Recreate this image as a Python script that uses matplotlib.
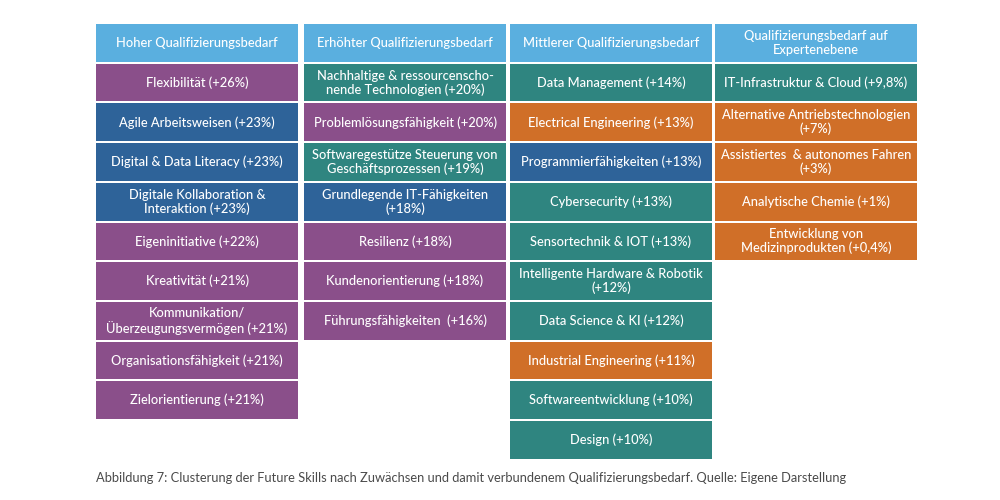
import matplotlib.pyplot as plt
from matplotlib.patches import Rectangle

# Column headers
HEADERS = [
    "Hoher Qualifizierungsbedarf",
    "Erhöhter Qualifizierungsbedarf",
    "Mittlerer Qualifizierungsbedarf",
    "Qualifizierungsbedarf auf\nExpertenebene",
]

# Skills per column (label text) and their cluster type
COL1 = [
    "Flexibilität (+26%)",
    "Agile Arbeitsweisen (+23%)",
    "Digital & Data Literacy (+23%)",
    "Digitale Kollaboration &\nInteraktion (+23%)",
    "Eigeninitiative (+22%)",
    "Kreativität (+21%)",
    "Kommunikation/\nÜberzeugungsvermögen (+21%)",
    "Organisationsfähigkeit (+21%)",
    "Zielorientierung (+21%)",
]
TYPE1 = ["soft", "digital", "digital", "digital", "soft", "soft", "soft", "soft", "soft"]

COL2 = [
    "Nachhaltige & ressourcenscho-\nnende Technologien (+20%)",
    "Problemlösungsfähigkeit (+20%)",
    "Softwaregestütze Steuerung von\nGeschäftsprozessen (+19%)",
    "Grundlegende IT-Fähigkeiten\n(+18%)",
    "Resilienz (+18%)",
    "Kundenorientierung (+18%)",
    "Führungsfähigkeiten  (+16%)",
]
TYPE2 = ["tech", "soft", "tech", "digital", "soft", "soft", "soft"]

COL3 = [
    "Data Management (+14%)",
    "Electrical Engineering (+13%)",
    "Programmierfähigkeiten (+13%)",
    "Cybersecurity (+13%)",
    "Sensortechnik & IOT (+13%)",
    "Intelligente Hardware & Robotik\n(+12%)",
    "Data Science & KI (+12%)",
    "Industrial Engineering (+11%)",
    "Softwareentwicklung (+10%)",
    "Design (+10%)",
]
TYPE3 = ["tech", "eng", "digital", "tech", "tech", "tech", "tech", "eng", "tech", "tech"]

COL4 = [
    "IT-Infrastruktur & Cloud (+9,8%)",
    "Alternative Antriebstechnologien\n(+7%)",
    "Assistiertes  & autonomes Fahren\n(+3%)",
    "Analytische Chemie (+1%)",
    "Entwicklung von\nMedizinprodukten (+0,4%)",
]
TYPE4 = ["tech", "eng", "eng", "eng", "eng"]

CAPTION = ("Abbildung 7: Clusterung der Future Skills nach Zuwächsen und damit "
           "verbundenem Qualifizierungsbedarf. Quelle: Eigene Darstellung")

COLORS = {
    "header": "#5aafdf",
    "soft": "#8a4f8a",
    "digital": "#2e6399",
    "tech": "#2f8580",
    "eng": "#d06f28",
}

# layout in pixel units
col_left = [96, 304, 510, 715]
col_width = 202
top = 24
pitch = 39.7
box_h = 37.8

plt.rcParams['font.family'] = ['Lato', 'DejaVu Sans']

fig = plt.figure(figsize=(10, 5), dpi=100)
ax = fig.add_axes([0, 0, 1, 1])
ax.set_xlim(0, 1000)
ax.set_ylim(500, 0)
ax.axis('off')

columns = [(COL1, TYPE1), (COL2, TYPE2), (COL3, TYPE3), (COL4, TYPE4)]
for c, (labels, types) in enumerate(columns):
    x0 = col_left[c]
    cells = [(HEADERS[c], "header")] + list(zip(labels, types))
    for r, (text, kind) in enumerate(cells):
        y0 = top + r * pitch
        ax.add_patch(Rectangle((x0, y0), col_width, box_h,
                               facecolor=COLORS[kind], edgecolor='none'))
        ax.text(x0 + col_width / 2, y0 + box_h / 2, text, color='white',
                ha='center', va='center', fontsize=9.3, linespacing=1.15,
                fontweight='medium')

ax.text(96, 478, CAPTION, color='#4a4a4a', fontsize=9.25, ha='left', va='center')

fig.savefig('out.png', dpi=100)
